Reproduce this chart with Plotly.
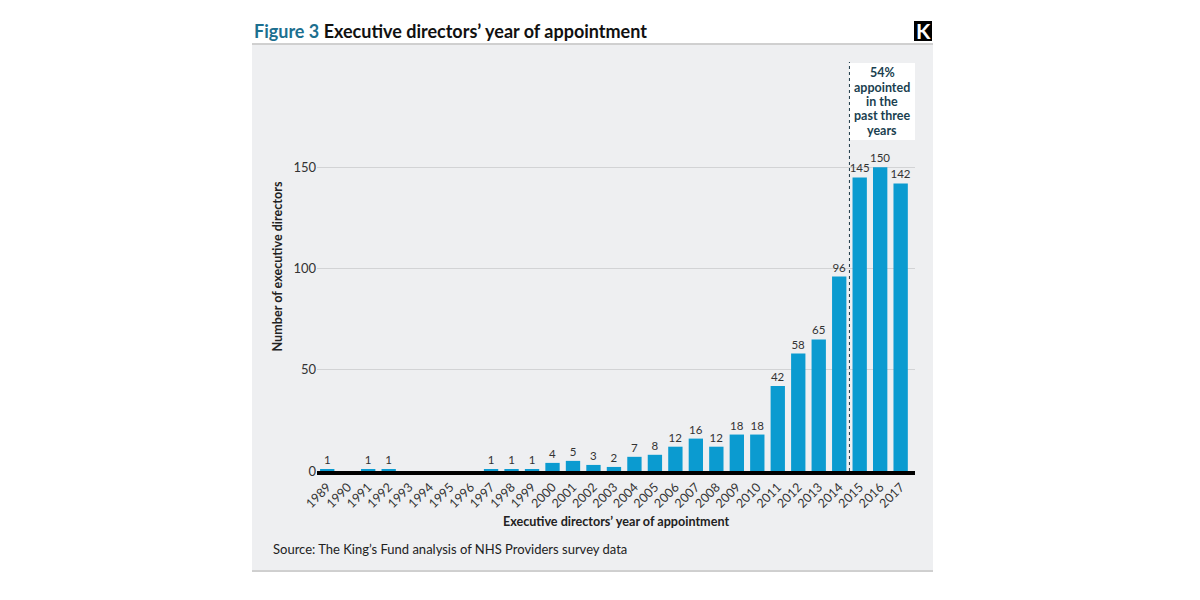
import plotly.graph_objects as go

years = [str(y) for y in range(1989, 2018)]
directors = [1, 0, 1, 1, 0, 0, 0, 0, 1, 1, 1, 4, 5, 3, 2, 7, 8, 12, 16, 12,
             18, 18, 42, 58, 65, 96, 145, 150, 142]
y_ticks = [0, 50, 100, 150]

title_teal = "Figure 3"
title_rest = "Executive directors’ year of appointment"
callout_lines = ["54%", "appointed", "in the", "past three", "years"]
source = "Source: The King’s Fund analysis of NHS Providers survey data"

FONT = "Lato, 'Open Sans', sans-serif"
BAR = "#0b9bd0"
PANEL = "#eeeff1"
PLOT_W, PLOT_H = 598, 409
CAT_W = PLOT_W / len(years)

# labels only where there is a bar
labels = [str(v) if v else "" for v in directors]

fig = go.Figure(go.Bar(
    x=years, y=directors,
    marker=dict(color=BAR, line=dict(width=0)),
    text=labels, textposition="outside", cliponaxis=False,
    constraintext="none",
    textfont=dict(size=11.5, color="#333333", family=FONT),
    hoverinfo="x+y",
))

# boundary between 2014 and 2015
split = years.index("2015") - 0.5


def px_x(p):
    return p / PLOT_W


def px_y(p):
    return p / PLOT_H


# callout box: white rect + one annotation per line (tighter leading)
box_w = 66 / CAT_W
callout_ann = [
    dict(xref="x", yref="paper", x=split + box_w / 2, y=1 - px_y(11 + 14.25 * i),
         xanchor="center", yanchor="middle", showarrow=False,
         text=f"<b>{line}</b>", font=dict(size=12.5, color="#1a3f50"))
    for i, line in enumerate(callout_lines)
]

# the page body adds an 8px offset, so margins are shifted to compensate
fig.update_layout(
    width=1200, height=600,
    paper_bgcolor="white", plot_bgcolor=PANEL,
    margin=dict(l=309, r=293, t=54, b=137),
    font=dict(family=FONT, color="#333333"),
    bargap=0.3,
    showlegend=False,
    xaxis=dict(
        type="category", tickangle=-45, ticks="",
        tickfont=dict(size=12.5, color="#333333"),
        showline=True, linecolor="black", linewidth=4,
        title=dict(text="<b>Executive directors’ year of appointment</b>",
                   font=dict(size=12.6, color="#222222"), standoff=8),
    ),
    yaxis=dict(
        range=[0, 202], tickvals=y_ticks,
        tickfont=dict(size=13, color="#333333"),
        showgrid=True, gridcolor="#d2d3d5", gridwidth=1,
        zeroline=False, ticks="",
        title=dict(text="<b>Number of executive directors</b>",
                   font=dict(size=12.6, color="#222222"), standoff=7),
    ),
    shapes=[
        # grey panel behind the whole chart
        dict(type="rect", xref="paper", yref="paper", layer="below",
             x0=-px_x(65), x1=1 + px_x(18), y0=-px_y(99), y1=1 + px_y(17),
             fillcolor=PANEL, line=dict(width=0)),
        dict(type="line", xref="paper", yref="paper",
             x0=-px_x(65), x1=1 + px_x(18), y0=1 + px_y(18), y1=1 + px_y(18),
             line=dict(color="#a0a0a0", width=1)),
        dict(type="line", xref="paper", yref="paper",
             x0=-px_x(65), x1=1 + px_x(18), y0=-px_y(100), y1=-px_y(100),
             line=dict(color="#a0a0a0", width=1)),
        # logo box
        dict(type="rect", xref="paper", yref="paper",
             x0=1 - px_x(1), x1=1 + px_x(17), y0=1 + px_y(21), y1=1 + px_y(41),
             fillcolor="black", line=dict(width=0)),
        # callout background
        dict(type="rect", xref="x", yref="paper",
             x0=split, x1=split + box_w, y0=1 - px_y(78), y1=1 - px_y(1),
             fillcolor="white", line=dict(width=0)),
        # three-year split
        dict(type="line", xref="x", yref="paper", x0=split, x1=split,
             y0=0, y1=1, line=dict(color="#1d3a48", width=1, dash="dot")),
    ],
    annotations=[
        dict(xref="paper", yref="paper", x=-px_x(65), y=1 + px_y(31),
             xanchor="left", yanchor="middle", showarrow=False,
             text=f"<b><span style='color:#1c6f8f'>{title_teal}</span> {title_rest}</b>",
             font=dict(size=18, color="#111111")),
        dict(xref="paper", yref="paper", x=1 + px_x(8), y=1 + px_y(31),
             xanchor="center", yanchor="middle", showarrow=False,
             text="<b>K</b>", font=dict(size=21, color="white")),
        dict(xref="paper", yref="paper", x=-px_x(46), y=-px_y(78),
             xanchor="left", yanchor="middle", showarrow=False,
             text=source, font=dict(size=13, color="#222222")),
    ] + callout_ann,
)

fig.write_html("out.html")
